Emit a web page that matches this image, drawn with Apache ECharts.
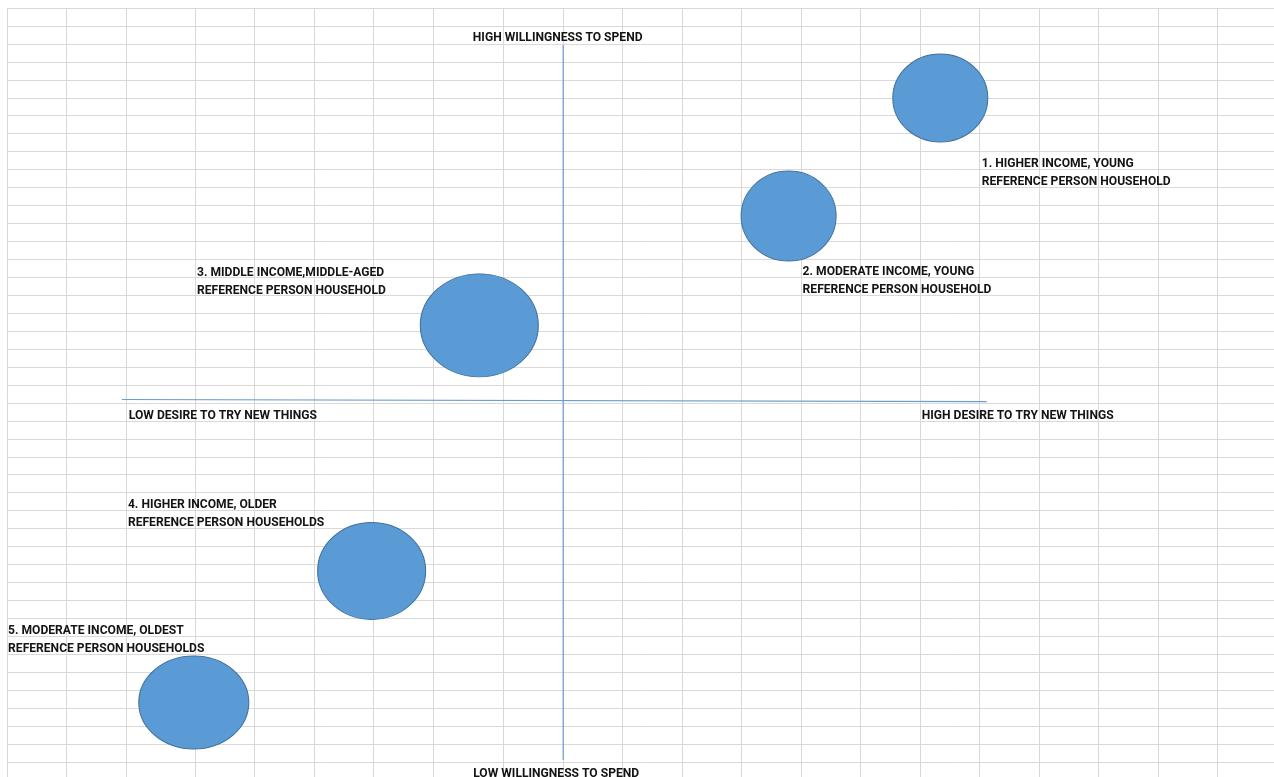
<!DOCTYPE html>
<html>
<head>
<meta charset="utf-8">
<title>Household segments: desire to try new things vs willingness to spend</title>
<script src="https://cdn.jsdelivr.net/npm/echarts@6/dist/echarts.min.js"></script>
<style>
  html, body { margin: 0; padding: 0; background: #ffffff; }
  #chart { width: 1274px; height: 777px; }
</style>
</head>
<body>
<div id="chart"></div>
<script>
// Sheet backdrop: relative column widths (1 = standard column), rows are uniform
const columnWidths = [1, 1, 1.16, 1, 1, 1, 1, 1.19, 1, 1, 1, 1, 1, 1, 1, 1, 1, 1, 1, 1, 1, 1];
const sheetCols = 21.3;   // visible sheet width, in standard columns
const sheetRows = 42.84;  // visible sheet height, in rows

// Household segments (x = column position, y = row position on the sheet)
const segmentNames = [
  '1. HIGHER INCOME, YOUNG\nREFERENCE PERSON HOUSEHOLD',
  '2. MODERATE INCOME, YOUNG\nREFERENCE PERSON HOUSEHOLD',
  '3. MIDDLE INCOME,MIDDLE-AGED\nREFERENCE PERSON HOUSEHOLD',
  '4. HIGHER INCOME, OLDER\nREFERENCE PERSON HOUSEHOLDS',
  '5. MODERATE INCOME, OLDEST\nREFERENCE PERSON HOUSEHOLDS'
];
const segmentCol = [15.69, 13.14, 7.94, 6.13, 3.14];
const segmentRow = [5.01, 11.59, 17.68, 31.36, 38.69];

// Quadrant dividers (end points, column/row units)
const spendAxis = [[9.35, 2.06], [9.35, 41.89]];
const desireAxis = [[1.93, 21.81], [16.47, 21.93]];
const axisCaptions = ['HIGH WILLINGNESS TO SPEND', 'LOW WILLINGNESS TO SPEND', 'LOW DESIRE TO TRY NEW THINGS', 'HIGH DESIRE TO TRY NEW THINGS'];

// Presentation: ellipse sizes (px) and label offsets from each ellipse centre (px)
const ellipseSize = [[95, 88], [95, 90], [118, 103], [108, 97], [110, 93]];
const labelOffset = [[41.5, 57.5], [14, 46.5], [-282.3, -61.8], [-243.7, -74.8], [-185.7, -80.7]];
const captionOffset = [[-5.5, -16], [-7, 5.5], [7, 7], [-65, 5]];
const captionAlign = ['center', 'center', 'left', 'left'];

const FONT = "Roboto, 'Liberation Sans', sans-serif";
const TEXT = '#141414';

// cumulative column boundaries
const colBounds = [0];
columnWidths.forEach(w => colBounds.push(+(colBounds[colBounds.length - 1] + w).toFixed(2)));

const textStyle = {
  fontFamily: FONT,
  fontWeight: 'bold',
  fontSize: 12.1,
  lineHeight: 18,
  color: TEXT,
  textBorderWidth: 0,
  opacity: 1
};

const segmentData = segmentNames.map((name, i) => ({
  name: name,
  value: [segmentCol[i], segmentRow[i]],
  symbolSize: ellipseSize[i],
  label: { offset: labelOffset[i] }
}));

const captionData = [spendAxis[0], spendAxis[1], desireAxis[0], desireAxis[1]].map((p, i) => ({
  name: axisCaptions[i],
  value: p,
  label: Object.assign({ offset: captionOffset[i], align: captionAlign[i] }, textStyle)
}));

const chart = echarts.init(document.getElementById('chart'), null, { renderer: 'canvas' });

chart.setOption({
  animation: false,
  backgroundColor: '#ffffff',
  grid: { left: 7, top: 8, right: 0, bottom: 0, containLabel: false },
  xAxis: {
    type: 'value',
    min: 0,
    max: sheetCols,
    axisLine: { show: false },
    axisTick: { show: false },
    axisLabel: { show: false },
    splitLine: { show: false }
  },
  yAxis: {
    type: 'value',
    inverse: true,
    min: 0,
    max: sheetRows,
    interval: 1,
    axisLine: { show: false },
    axisTick: { show: false },
    axisLabel: { show: false },
    splitLine: { show: true, lineStyle: { color: '#d9d9d9', width: 1 } }
  },
  series: [
    {
      // column gridlines of the sheet
      type: 'scatter',
      silent: true,
      data: [],
      z: 1,
      markLine: {
        silent: true,
        z: 1,
        symbol: 'none',
        animation: false,
        label: { show: false },
        lineStyle: { color: '#d9d9d9', width: 1, type: 'solid' },
        data: colBounds.map(c => ({ xAxis: c }))
      }
    },
    {
      type: 'line',
      silent: true,
      symbol: 'none',
      z: 2,
      data: spendAxis,
      lineStyle: { color: '#6a9bd2', width: 1.2 }
    },
    {
      type: 'line',
      silent: true,
      symbol: 'none',
      z: 2,
      data: desireAxis,
      lineStyle: { color: '#6a9bd2', width: 1.2 }
    },
    {
      type: 'scatter',
      silent: true,
      z: 3,
      symbol: 'circle',
      data: segmentData,
      itemStyle: { color: '#5b9bd5', borderColor: '#41719c', borderWidth: 1, opacity: 1 },
      label: Object.assign({
        show: true,
        position: 'inside',
        align: 'left',
        verticalAlign: 'top',
        formatter: p => p.name
      }, textStyle)
    },
    {
      type: 'scatter',
      silent: true,
      z: 4,
      symbolSize: 1,
      data: captionData,
      itemStyle: { color: 'rgba(255,255,255,0)', opacity: 1 },
      label: Object.assign({
        show: true,
        position: 'inside',
        verticalAlign: 'top',
        formatter: p => p.name
      }, textStyle)
    }
  ]
});
</script>
</body>
</html>
